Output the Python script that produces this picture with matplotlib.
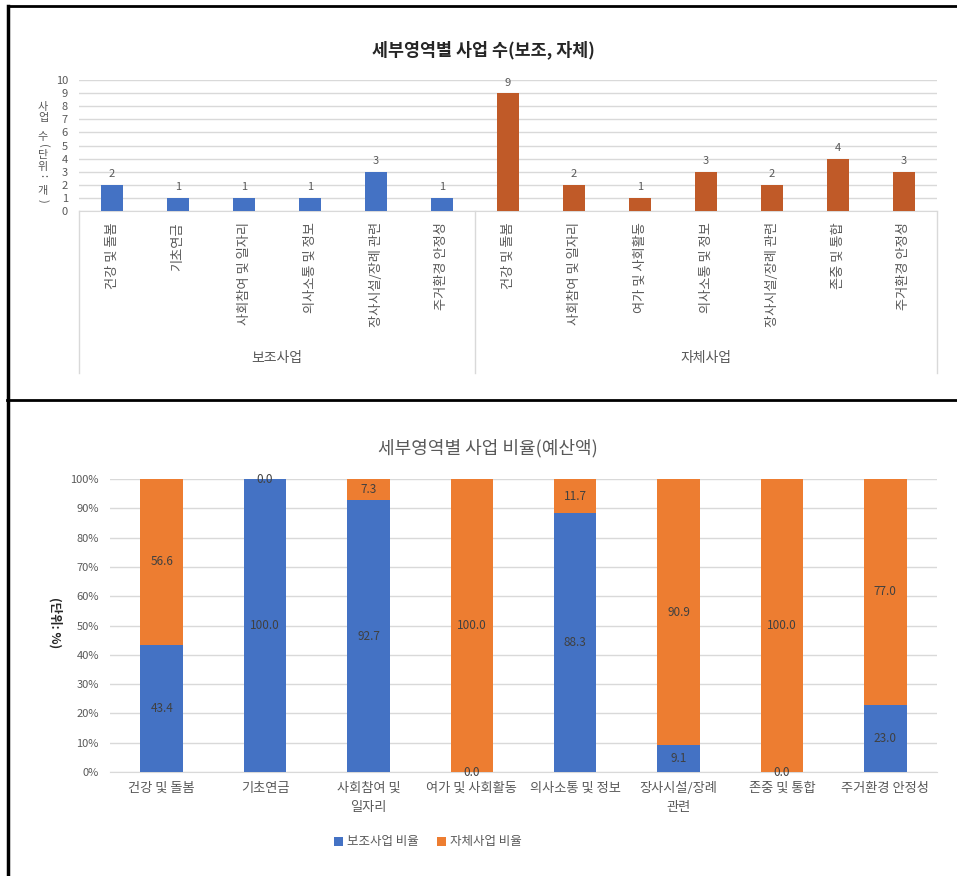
import numpy as np
import matplotlib
matplotlib.use("Agg")
import matplotlib.pyplot as plt
from matplotlib.lines import Line2D

plt.rcParams['font.family'] = ['Noto Sans CJK KR', 'DejaVu Sans']

# --- data: top chart (number of projects) ---
sub_cats = ["건강 및 돌봄", "기초연금", "사회참여 및 일자리", "의사소통 및 정보",
            "장사시설/장례 관련", "주거환경 안정성"]
sub_counts = [2, 1, 1, 1, 3, 1]
own_cats = ["건강 및 돌봄", "사회참여 및 일자리", "여가 및 사회활동", "의사소통 및 정보",
            "장사시설/장례 관련", "존중 및 통합", "주거환경 안정성"]
own_counts = [9, 2, 1, 3, 2, 4, 3]
group_names = ["보조사업", "자체사업"]

# --- data: bottom chart (budget ratio) ---
ratio_cats = ["건강 및 돌봄", "기초연금", "사회참여 및\n일자리", "여가 및 사회활동",
              "의사소통 및 정보", "장사시설/장례\n관련", "존중 및 통합", "주거환경 안정성"]
sub_ratio = [43.4, 100.0, 92.7, 0.0, 88.3, 9.1, 0.0, 23.0]
own_ratio = [56.6, 0.0, 7.3, 100.0, 11.7, 90.9, 100.0, 77.0]
legend_labels = ["보조사업 비율", "자체사업 비율"]

W, H = 957, 876
BLUE = '#4472C4'
BROWN = '#C05A28'
ORANGE = '#ED7D31'
GRID = '#D9D9D9'
TXT = '#595959'


def fx(px):
    return px / W


def fy(py):
    return 1 - py / H


fig = plt.figure(figsize=(W / 100, H / 100), dpi=100)
fig.patch.set_facecolor('white')

# ================= top chart =================
ax1 = fig.add_axes([fx(79), fy(211), fx(937) - fx(79), fy(80) - fy(211)])
n_sub = len(sub_cats)
n_all = n_sub + len(own_cats)
x_sub = np.arange(n_sub)
x_own = np.arange(n_sub, n_all)
b1 = ax1.bar(x_sub, sub_counts, width=0.32, color=BLUE, zorder=3)
b2 = ax1.bar(x_own, own_counts, width=0.32, color=BROWN, zorder=3)
for bars in (b1, b2):
    ax1.bar_label(bars, padding=4, fontsize=8, color=TXT)
ax1.set_xlim(-0.5, n_all - 0.5)
ax1.set_ylim(0, 10)
ax1.set_yticks(range(0, 11))
ax1.yaxis.grid(True, color=GRID, lw=1, zorder=0)
ax1.set_axisbelow(True)
for s in ['top', 'right', 'left']:
    ax1.spines[s].set_visible(False)
ax1.spines['bottom'].set_color(GRID)
ax1.tick_params(axis='y', length=0, labelsize=8, labelcolor=TXT, pad=8)
ax1.set_xticks(list(x_sub) + list(x_own))
ax1.set_xticklabels(sub_cats + own_cats, rotation=90, va='top', ha='center',
                    fontsize=9.5, color=TXT)
ax1.tick_params(axis='x', length=0, pad=8)

# group separators and names
for xp in [79, 475, 937]:
    fig.add_artist(Line2D([fx(xp), fx(xp)], [fy(211), fy(373)], color=GRID, lw=1))
fig.text(fx(277), fy(358), group_names[0], ha='center', va='center', fontsize=10, color=TXT)
fig.text(fx(706), fy(358), group_names[1], ha='center', va='center', fontsize=10, color=TXT)

fig.text(fx(483), fy(50), "세부영역별 사업 수(보조, 자체)", ha='center', va='center',
         fontsize=12.5, fontweight='bold', color='#262626')

# stacked vertical axis title
ylab = "사업 수(단위: 개)"
adv = {' ': 7, '(': 7, ')': 7, ':': 6}
yy = 101
for ch in ylab:
    step = adv.get(ch, 11.5)
    if ch != ' ':
        rot = -90 if ch in '():' else 0
        fig.text(fx(43), fy(yy + step / 2), ch, ha='center', va='center',
                 fontsize=8, color=TXT, rotation=rot)
    yy += step

# ================= bottom chart =================
ax2 = fig.add_axes([fx(110), fy(772), fx(937) - fx(110), fy(479) - fy(772)])
xr = np.arange(len(ratio_cats))
r1 = ax2.bar(xr, sub_ratio, width=0.41, color=BLUE, zorder=3)
r2 = ax2.bar(xr, own_ratio, width=0.41, bottom=sub_ratio, color=ORANGE, zorder=3)
for bars in (r1, r2):
    ax2.bar_label(bars, labels=[f"{v:.1f}" for v in bars.datavalues],
                  label_type='center', fontsize=8.5, color='#404040')
ax2.set_xlim(-0.5, len(ratio_cats) - 0.5)
ax2.set_ylim(0, 100)
ax2.set_yticks(range(0, 101, 10))
ax2.set_yticklabels([f"{v}%" for v in range(0, 101, 10)])
ax2.yaxis.grid(True, color=GRID, lw=1, zorder=0)
ax2.set_axisbelow(True)
for s in ['top', 'right', 'left']:
    ax2.spines[s].set_visible(False)
ax2.spines['bottom'].set_color(GRID)
ax2.tick_params(axis='y', length=0, labelsize=8, labelcolor=TXT, pad=8)
ax2.set_xticks(xr)
ax2.set_xticklabels(ratio_cats, fontsize=9.5, color=TXT, linespacing=1.6)
ax2.tick_params(axis='x', length=0, pad=7)

fig.text(fx(488), fy(448), "세부영역별 사업 비율(예산액)", ha='center', va='center',
         fontsize=13, color=TXT)
fig.text(fx(55), fy(623), "(단위: %)", ha='center', va='center', rotation=270,
         fontsize=9, fontweight='bold', color='#262626')

fig.legend([r1, r2], legend_labels, loc='center', bbox_to_anchor=(fx(428), fy(842)),
           ncol=2, frameon=False, fontsize=9, labelcolor=TXT, handlelength=0.7,
           handleheight=0.7, handletextpad=0.3, columnspacing=1.5)

# screenshot borders
fig.add_artist(Line2D([fx(8), fx(8)], [fy(6), 0], color='black', lw=2.5))
fig.add_artist(Line2D([fx(8), 1], [fy(6), fy(6)], color='black', lw=2))
fig.add_artist(Line2D([fx(7), 1], [fy(400), fy(400)], color='black', lw=2))

fig.savefig("out.png", dpi=100, facecolor='white')
